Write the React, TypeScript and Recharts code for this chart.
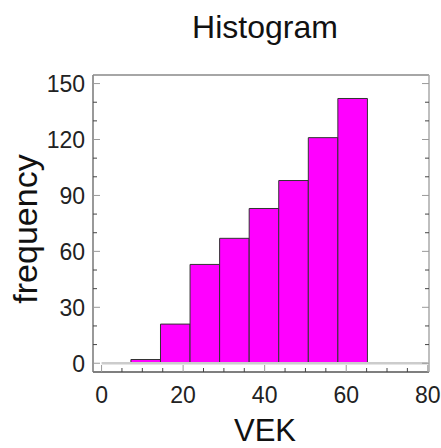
import {
  ComposedChart,
  Line,
  ReferenceArea,
  XAxis,
  YAxis,
} from "recharts";

// histogram bins (VEK) and their counts
const binStart = [7.2, 14.45, 21.7, 28.95, 36.2, 43.45, 50.7, 57.95];
const binEnd = [14.45, 21.7, 28.95, 36.2, 43.45, 50.7, 57.95, 65.2];
const counts = [2, 21, 53, 67, 83, 98, 121, 142];

const xTicks = [0, 5, 10, 15, 20, 25, 30, 35, 40, 45, 50, 55, 60, 65, 70, 75, 80];
const xLabels = [0, 20, 40, 60, 80];
const yTicks = [0, 10, 20, 30, 40, 50, 60, 70, 80, 90, 100, 110, 120, 130, 140, 150];
const yLabels = [0, 30, 60, 90, 120, 150];

// light zero line across the range
const baseline = [
  { x: 0, y: 0 },
  { x: 80, y: 0 },
];

const FONT = "'Liberation Sans', Arial, sans-serif";
const BAR = "#ff00ff";
const MINOR = "#444";
const MAJOR = "#9a9a9a";

type TickProps = { x?: number; y?: number; payload?: { value: number } };

const isX = (v: number) => xLabels.includes(v);
const isY = (v: number) => yLabels.includes(v);

function BottomTick({ x = 0, y = 0, payload }: TickProps) {
  const v = payload ? payload.value : 0;
  const major = isX(v);
  return (
    <g>
      <line x1={x} x2={x} y1={y} y2={y - (major ? 7 : 4)} stroke={major ? MAJOR : MINOR} />
      {major && (
        <text x={x} y={y + 31} textAnchor="middle" fontSize={23} fill="#222" fontFamily={FONT}>
          {v}
        </text>
      )}
    </g>
  );
}

function TopTick({ x = 0, y = 0, payload }: TickProps) {
  const major = isX(payload ? payload.value : 0);
  return <line x1={x} x2={x} y1={y} y2={y + (major ? 7 : 4)} stroke={major ? MAJOR : MINOR} />;
}

function LeftTick({ x = 0, y = 0, payload }: TickProps) {
  const v = payload ? payload.value : 0;
  const major = isY(v);
  return (
    <g>
      <line x1={x} x2={x + (major ? 7 : 4)} y1={y} y2={y} stroke={major ? MAJOR : MINOR} />
      {major && (
        <text x={x - 8} y={y} dy="0.36em" textAnchor="end" fontSize={23} fill="#222" fontFamily={FONT}>
          {v}
        </text>
      )}
    </g>
  );
}

function RightTick({ x = 0, y = 0, payload }: TickProps) {
  const major = isY(payload ? payload.value : 0);
  return <line x1={x} x2={x - (major ? 7 : 4)} y1={y} y2={y} stroke={major ? MAJOR : MINOR} />;
}

export default function App() {
  return (
    <div style={{ position: "absolute", left: 0, top: 0, width: 441, height: 448, background: "#fff" }}>
      <ComposedChart
        width={441}
        height={448}
        data={baseline}
        margin={{ top: 70, right: 0, bottom: 0, left: 0 }}
      >
        <XAxis
          xAxisId="b"
          dataKey="x"
          type="number"
          orientation="bottom"
          domain={[-2.1, 80.3]}
          allowDataOverflow
          ticks={xTicks}
          interval={0}
          height={76}
          tickSize={0}
          tickMargin={0}
          tickLine={false}
          axisLine={{ stroke: "#555", strokeWidth: 1.5 }}
          tick={<BottomTick />}
        />
        <XAxis
          xAxisId="t"
          type="number"
          orientation="top"
          domain={[-2.1, 80.3]}
          allowDataOverflow
          ticks={xTicks}
          interval={0}
          height={5}
          tickSize={0}
          tickMargin={0}
          tickLine={false}
          axisLine={{ stroke: "#888", strokeWidth: 1.5 }}
          tick={<TopTick />}
        />
        <YAxis
          yAxisId="l"
          type="number"
          orientation="left"
          domain={[-4.7, 154.6]}
          allowDataOverflow
          ticks={yTicks}
          interval={0}
          width={93}
          tickSize={0}
          tickMargin={0}
          tickLine={false}
          axisLine={{ stroke: "#777", strokeWidth: 1.5 }}
          tick={<LeftTick />}
        />
        <YAxis
          yAxisId="r"
          type="number"
          orientation="right"
          domain={[-4.7, 154.6]}
          allowDataOverflow
          ticks={yTicks}
          interval={0}
          width={12}
          tickSize={0}
          tickMargin={0}
          tickLine={false}
          axisLine={{ stroke: "#aaa", strokeWidth: 1.5 }}
          tick={<RightTick />}
        />
        <Line
          xAxisId="b"
          yAxisId="l"
          dataKey="y"
          stroke="#cccccc"
          strokeWidth={2.5}
          dot={false}
          isAnimationActive={false}
        />
        {counts.map((c, i) => (
          <ReferenceArea
            key={i}
            xAxisId="b"
            yAxisId="l"
            x1={binStart[i]}
            x2={binEnd[i]}
            y1={0}
            y2={c}
            fill={BAR}
            fillOpacity={1}
            stroke="#333"
            strokeWidth={1}
          />
        ))}
      </ComposedChart>
      <svg
        width={441}
        height={448}
        style={{ position: "absolute", left: 0, top: 0, pointerEvents: "none" }}
      >
        <text x={265} y={38} textAnchor="middle" fontSize={32} fill="#111" fontFamily={FONT}>
          Histogram
        </text>
        <text
          x={37}
          y={229}
          transform="rotate(-90, 37, 229)"
          textAnchor="middle"
          fontSize={34}
          fill="#111"
          fontFamily={FONT}
        >
          frequency
        </text>
        <text x={265} y={441} textAnchor="middle" fontSize={31} fill="#111" fontFamily={FONT}>
          VEK
        </text>
      </svg>
    </div>
  );
}
